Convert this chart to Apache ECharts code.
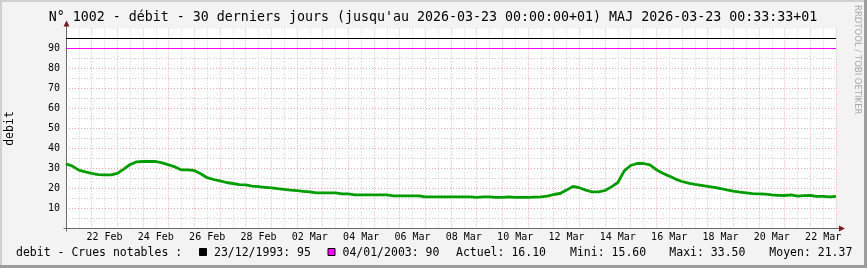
<!DOCTYPE html>
<html><head><meta charset="utf-8">
<script src="https://cdn.jsdelivr.net/npm/echarts@6/dist/echarts.min.js"></script>
<style>html,body{margin:0;padding:0;background:#f3f3f3}#c{width:867px;height:268px}</style>
</head><body><div id="c"></div>
<script>
const titleText = "N° 1002 - débit - 30 derniers jours (jusqu'au 2026-03-23 00:00:00+01) MAJ 2026-03-23 00:33:33+01";
const tickLabels = ['22 Feb','24 Feb','26 Feb','28 Feb','02 Mar','04 Mar','06 Mar','08 Mar','10 Mar','12 Mar','14 Mar','16 Mar','18 Mar','20 Mar','22 Mar'];
const spanDays = 30;
const stepDays = 0.25;
const debit = [
32.3,31.2,29.2,28.3,27.6,26.9,26.8,26.8,27.6,29.7,
32.0,33.3,33.5,33.5,33.5,32.8,31.8,30.8,29.3,29.3,
29.0,27.4,25.4,24.5,23.8,23.0,22.5,21.9,21.8,21.2,
20.9,20.6,20.3,19.9,19.6,19.2,18.9,18.6,18.3,17.8,
17.8,17.8,17.8,17.3,17.3,16.8,16.8,16.8,16.8,16.8,
16.8,16.3,16.3,16.3,16.3,16.3,15.8,15.8,15.8,15.8,
15.8,15.8,15.8,15.8,15.6,15.8,15.8,15.6,15.6,15.8,
15.6,15.6,15.6,15.7,15.8,16.2,17.0,17.5,19.2,21.0,
20.4,19.2,18.3,18.3,19.0,20.8,23.0,28.8,31.5,32.5,
32.5,31.8,29.4,27.6,26.2,24.7,23.5,22.7,22.1,21.6,
21.1,20.6,20.0,19.3,18.7,18.2,17.8,17.4,17.3,17.2,
16.8,16.6,16.5,16.8,16.2,16.4,16.5,16.1,16.1,15.8,
16.1
];
const crueDates = ['23/12/1993','04/01/2003'];
const crueValues = [95, 90];
const crueColors = ['#000000','#ff00ff'];
const statLabels = ['Actuel','Mini','Maxi','Moyen'];
const statValues = ['16.10','15.60','33.50','21.37'];
const legendPrefix = 'debit - Crues notables :';
const yName = 'debit';
const watermark = 'RRDTOOL / TOBI OETIKER';

const MONO = '"DejaVu Sans Mono", monospace';
const chart = echarts.init(document.getElementById('c'), null, {renderer:'canvas'});

const series = [];
crueValues.forEach((v, k) => {
  series.push({type:'line', xAxisIndex:0, data:[[0, v],[spanDays, v]], symbol:'none', silent:true,
    lineStyle:{color:crueColors[k], width:1}, z:3, animation:false});
});
series.push({type:'line', xAxisIndex:0, data: debit.map((v,i)=>[i*stepDays, v]), symbol:'none',
  lineStyle:{color:'#009c00', width:2.8}, z:4, animation:false});

chart.setOption({
  backgroundColor:'#f3f3f3',
  animation:false,
  grid:{left:66, right:31, top:28.5, bottom:39.5, show:false, outerBoundsMode:'none'},
  xAxis:[
    {type:'value', min:0, max:spanDays, interval:1,
     axisLine:{show:true, onZero:false, lineStyle:{color:'#6a6a6a', width:1}},
     axisTick:{show:false}, axisLabel:{show:false},
     splitLine:{show:true, showMinLine:false, lineStyle:{color:'#eea8a8', type:[1,2], width:1}},
     minorTick:{show:false, splitNumber:2},
     minorSplitLine:{show:true, lineStyle:{color:'#cccccc', type:[1,2], width:1}}},
    {type:'value', position:'bottom', offset:0, min:0, max:spanDays, interval:0.5,
     axisLine:{show:false}, axisTick:{show:false}, splitLine:{show:false},
     axisLabel:{show:true, interval:0, hideOverlap:false, fontFamily:MONO, fontSize:10, color:'#000', margin:4,
       formatter:(v)=>{const d=v-1.5; if(d>=0 && Math.abs(d%2)<1e-9){return tickLabels[Math.round(d/2)]||'';} return '';}}}
  ],
  yAxis:{type:'value', min:0, max:100, interval:10,
    name:yName, nameLocation:'middle', nameGap:50, nameRotate:90,
    nameTextStyle:{fontFamily:MONO, fontSize:11.5, color:'#000'},
    axisLine:{show:true, lineStyle:{color:'#6a6a6a', width:1}},
    axisTick:{show:false},
    axisLabel:{fontFamily:MONO, fontSize:10, color:'#000', margin:6, formatter:(v)=> (v>0 && v<100) ? String(v) : ''},
    splitLine:{show:true, showMinLine:false, showMaxLine:false, lineStyle:{color:'#eea8a8', type:[1,2], width:1}},
    minorTick:{show:false, splitNumber:2},
    minorSplitLine:{show:true, lineStyle:{color:'#cccccc', type:[1,2], width:1}}},
  series: series
});

const p0 = chart.convertToPixel({gridIndex:0}, [0, 0]);
const p1 = chart.convertToPixel({gridIndex:0}, [spanDays, 100]);
const ax = Math.round(p0[0]) + 0.5, ay = Math.round(p0[1]) - 0.5;
const arrowColor = '#7a1c1c';
const textY = 253;
const g = [];
// plot background
g.push({type:'rect', z:-100, shape:{x:p0[0], y:p1[1], width:p1[0]-p0[0], height:p0[1]-p1[1]}, style:{fill:'#ffffff'}, silent:true});
// frame
g.push({type:'rect', shape:{x:0,y:0,width:867,height:2}, style:{fill:'#cfcfcf'}, silent:true});
g.push({type:'rect', shape:{x:0,y:0,width:2,height:268}, style:{fill:'#cfcfcf'}, silent:true});
g.push({type:'rect', shape:{x:864,y:0,width:3,height:268}, style:{fill:'#9c9c9c'}, silent:true});
g.push({type:'rect', shape:{x:0,y:265,width:867,height:3}, style:{fill:'#9c9c9c'}, silent:true});
// axis extensions and arrows
g.push({type:'line', shape:{x1:ax, y1:ay+3, x2:ax, y2:p1[1]-4}, style:{stroke:'#6a6a6a', lineWidth:1}, silent:true});
g.push({type:'line', shape:{x1:ax-3, y1:ay, x2:p1[0]+4, y2:ay}, style:{stroke:'#6a6a6a', lineWidth:1}, silent:true});
g.push({type:'polygon', shape:{points:[[ax-3, p1[1]-2],[ax, p1[1]-8],[ax+3, p1[1]-2]]}, style:{fill:arrowColor}, silent:true});
g.push({type:'polygon', shape:{points:[[p1[0]+3, ay-3],[p1[0]+9, ay],[p1[0]+3, ay+3]]}, style:{fill:arrowColor}, silent:true});
// title
g.push({type:'text', x:433, y:18, style:{text:titleText, font:'13.3px '+MONO, fill:'#000', align:'center', verticalAlign:'middle'}, silent:true});
// watermark
g.push({type:'text', x:857, y:5, rotation:-Math.PI/2, style:{text:watermark, font:'8.5px "DejaVu Sans", sans-serif', fill:'#a8a8a8', align:'left', verticalAlign:'middle'}, silent:true});
// legend line
g.push({type:'text', x:16, y:textY, style:{text:legendPrefix, font:'11.5px '+MONO, fill:'#000', align:'left', verticalAlign:'middle'}, silent:true});
const legendStarts = [199, 327.5];
crueDates.forEach((d,k)=>{
  const sx = legendStarts[k];
  g.push({type:'rect', shape:{x:sx+0.5, y:textY-4.5, width:7, height:7}, style:{fill:crueColors[k], stroke:'#000', lineWidth:1}, silent:true});
  g.push({type:'text', x:sx+15, y:textY, style:{text:d+': '+crueValues[k], font:'11.5px '+MONO, fill:'#000', align:'left', verticalAlign:'middle'}, silent:true});
});
const statStarts = [456, 570, 669.3, 769.3];
statLabels.forEach((l,k)=>{
  g.push({type:'text', x:statStarts[k], y:textY, style:{text:l+': '+statValues[k], font:'11.5px '+MONO, fill:'#000', align:'left', verticalAlign:'middle'}, silent:true});
});
chart.setOption({graphic:g});
</script></body></html>
